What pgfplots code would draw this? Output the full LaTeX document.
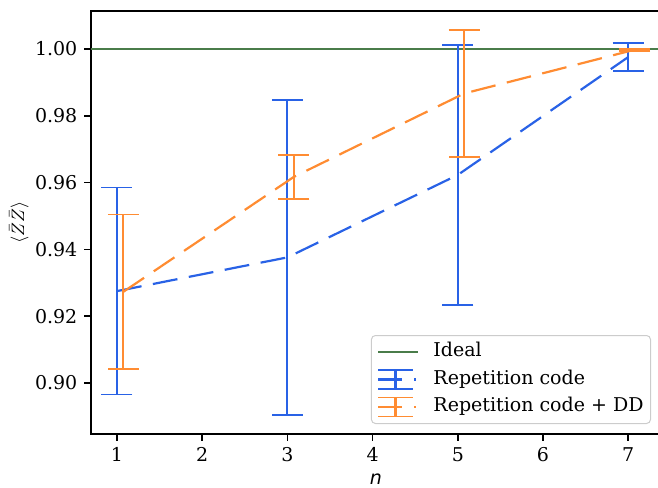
\documentclass[border=0pt]{standalone}
\usepackage{fontspec}
\setmainfont{DejaVu Serif}
\newfontfamily\dvs{DejaVu Sans}
\usepackage{pgfplots}
\pgfplotsset{compat=1.18}
\usetikzlibrary{calc}
\definecolor{cblue}{RGB}{41,98,230}
\definecolor{corange}{RGB}{255,140,50}
\definecolor{cgreen}{RGB}{74,124,74}

\pgfplotstableread{
x     y       e
1     0.9275  0.0310
3     0.9376  0.0472
5     0.9623  0.0389
7     0.9976  0.0042
}\bluedata
\pgfplotstableread{
x      y       e
1.075  0.9273  0.0231
3.075  0.9617  0.0066
5.075  0.9867  0.0190
7.075  0.9998  0.0003
}\orangedata

\begin{document}
\begin{tikzpicture}
\begin{axis}[name=ax, scale only axis, width=285pt, height=211.5pt,
  xmin=0.695, xmax=7.385, ymin=0.8847, ymax=1.0114,
  xtick={1,2,3,4,5,6,7}, ytick={0.90,0.92,0.94,0.96,0.98,1.00},
  tick align=outside, tick pos=left, major tick length=3.3pt,
  every tick/.style={black, line width=0.75pt},
  axis line style={line width=0.75pt},
  /pgf/number format/assume math mode=true,
  yticklabel style={/pgf/number format/.cd, fixed, fixed zerofill, precision=2},
  ticklabel style={font=\fontsize{9.5}{11}\selectfont},
  xlabel={\dvs\itshape n}, ylabel={$\langle\bar{Z}\bar{Z}\rangle$},
  label style={font=\fontsize{9.5}{11}\selectfont},
  xlabel style={at={(axis description cs:0.5,-0.1064)}, anchor=center},
  ylabel style={at={(axis description cs:-0.1263,0.5)}, anchor=center},
  legend style={at={(axis description cs:1,0)}, anchor=south east, xshift=-5pt, yshift=5pt,
    draw=black!20, line width=0.5pt, rounded corners=2pt, fill=white, fill opacity=0.8, text opacity=1,
    font=\fontsize{9.5}{11}\selectfont, inner xsep=3.5pt, inner ysep=3.5pt, row sep=4.25pt, column sep=7.5pt,
    nodes={inner sep=0pt, text height=7pt, text depth=2.5pt}},
  legend cell align=left,
]
\addplot[cgreen, line width=1.25pt, legend image code/.code={
    \path[use as bounding box, draw=none, fill=none] (0pt,-2pt) rectangle (20pt,2pt);
    \draw[solid, cgreen, line width=1.25pt] (0pt,0pt) -- (20pt,0pt);}]
  coordinates {(0.695,1) (7.385,1)};
\addlegendentry{Ideal}

\addplot[cblue, line width=1.1pt, dash pattern=on 12.5pt off 5.8pt, no markers,
  legend image code/.code={
    \path[use as bounding box, draw=none, fill=none] (0pt,-2pt) rectangle (20pt,2pt);
    \draw[solid, cblue, line width=1.1pt] (0pt,0pt) -- (12pt,0pt) (18pt,0pt) -- (18.8pt,0pt);
    \draw[solid, cblue, line width=1.1pt] (8.5pt,-4.75pt) -- (8.5pt,4.75pt);
    \draw[solid, cblue, line width=0.8pt] (0pt,-4.75pt) -- (17.5pt,-4.75pt) (0pt,4.75pt) -- (17.5pt,4.75pt);},
  error bars/.cd, y dir=both, y explicit,
  error bar style={solid, line width=1.1pt},
  error mark options={solid, rotate=90, line width=0.8pt, mark size=7.75pt}]
  table[x=x, y=y, y error=e] {\bluedata};
\addlegendentry{Repetition code}

\addplot[corange, line width=1.1pt, dash pattern=on 12.5pt off 5.8pt, no markers,
  legend image code/.code={
    \path[use as bounding box, draw=none, fill=none] (0pt,-2pt) rectangle (20pt,2pt);
    \draw[solid, corange, line width=1.1pt] (0pt,0pt) -- (12pt,0pt) (18pt,0pt) -- (18.8pt,0pt);
    \draw[solid, corange, line width=1.1pt] (8.5pt,-4.75pt) -- (8.5pt,4.75pt);
    \draw[solid, corange, line width=0.8pt] (0pt,-4.75pt) -- (17.5pt,-4.75pt) (0pt,4.75pt) -- (17.5pt,4.75pt);},
  error bars/.cd, y dir=both, y explicit,
  error bar style={solid, line width=1.1pt},
  error mark options={solid, rotate=90, line width=0.8pt, mark size=7.75pt}]
  table[x=x, y=y, y error=e] {\orangedata};
\addlegendentry{Repetition code + DD}
\end{axis}
\pgfresetboundingbox
\path[use as bounding box] ($(ax.south west)+(-45.5pt,-26.5pt)$) rectangle ($(ax.north east)+(-1.5pt,5.5pt)$);
\end{tikzpicture}
\end{document}
